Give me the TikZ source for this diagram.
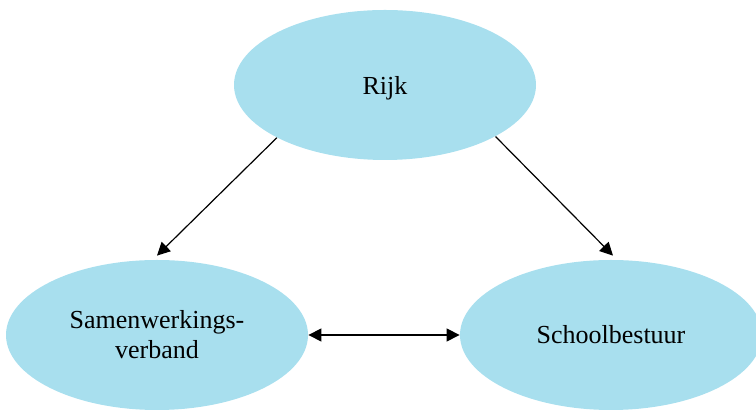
\documentclass[tikz,border=0pt]{standalone}
\usepackage{fontspec}
\setmainfont{Liberation Serif}
\usetikzlibrary{shapes.geometric,arrows.meta}
\definecolor{bub}{RGB}{168,223,238}
\tikzset{
  bubble/.style={ellipse, fill=bub, draw=none, minimum width=151pt, minimum height=75pt, inner sep=0pt, font=\fontsize{13}{15}\selectfont, align=center},
  conn/.style={line width=0.6pt, -{Triangle[length=6.5pt,width=6.5pt]}},
  bconn/.style={line width=0.6pt, {Triangle[length=6.5pt,width=6.5pt]}-{Triangle[length=6.5pt,width=6.5pt]}}
}
\begin{document}
\begin{tikzpicture}[x=0.5pt,y=-0.5pt]
\useasboundingbox (0,0) rectangle (756,410);
\begin{scope}
\clip (0,0) rectangle (756,410);
\node[bubble] (rijk) at (385,85) {};
\node[font=\fontsize{13}{15}\selectfont] (rijkt) at (385,88) {Rijk};
\node[bubble] (sam) at (157,335) {Samenwerkings-\\verband};
\node[bubble] (sch) at (611,335) {Schoolbestuur};
\end{scope}
\draw[conn] (rijk.206) -- ([yshift=2pt]sam.north);
\draw[conn] (rijk.335) -- ([yshift=2pt,xshift=1pt]sch.north);
\draw[bconn] (sam.east) -- (sch.west);
\end{tikzpicture}
\end{document}
